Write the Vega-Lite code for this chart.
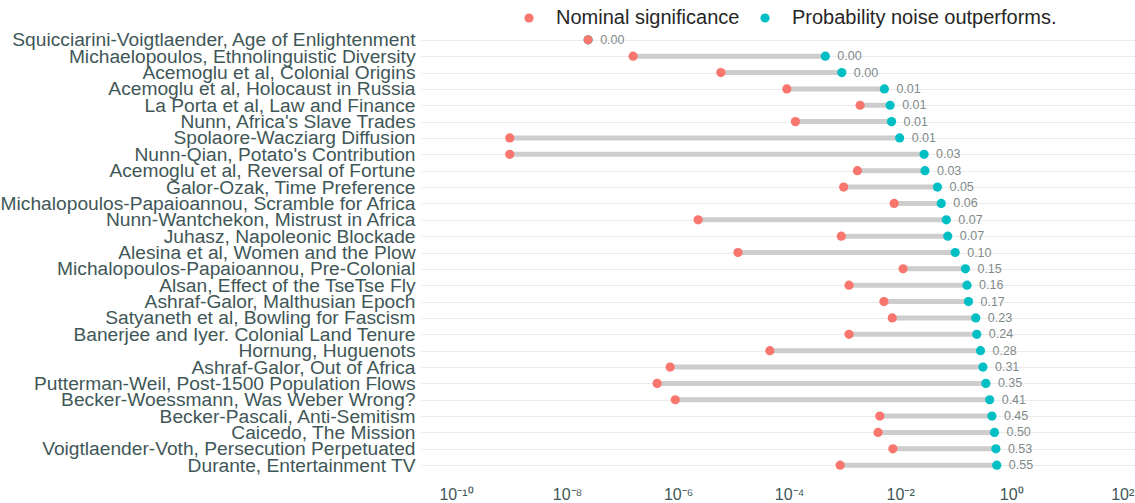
{
  "$schema": "https://vega.github.io/schema/vega-lite/v6.json",
  "width": 714,
  "height": 445,
  "autosize": {"type": "none"},
  "padding": {"left": 421, "top": 30, "right": 0, "bottom": 28},
  "background": "white",
  "config": {"view": {"stroke": null}, "font": "Liberation Sans"},
  "data": {
    "values": [
      {"study": "Squicciarini-Voigtlaender, Age of Enlightenment", "nominal": 2.4e-8, "noise": 2.4e-8, "label": "0.00"},
      {"study": "Michaelopoulos, Ethnolinguistic Diversity", "nominal": 1.55e-7, "noise": 4.5e-4, "label": "0.00"},
      {"study": "Acemoglu et al, Colonial Origins", "nominal": 5.9e-6, "noise": 8.9e-4, "label": "0.00"},
      {"study": "Acemoglu et al, Holocaust in Russia", "nominal": 9.1e-5, "noise": 5.2e-3, "label": "0.01"},
      {"study": "La Porta et al, Law and Finance", "nominal": 1.9e-3, "noise": 6.6e-3, "label": "0.01"},
      {"study": "Nunn, Africa's Slave Trades", "nominal": 1.3e-4, "noise": 7.0e-3, "label": "0.01"},
      {"study": "Spolaore-Wacziarg Diffusion", "nominal": 9.3e-10, "noise": 9.8e-3, "label": "0.01"},
      {"study": "Nunn-Qian, Potato's Contribution", "nominal": 9.3e-10, "noise": 0.027, "label": "0.03"},
      {"study": "Acemoglu et al, Reversal of Fortune", "nominal": 1.7e-3, "noise": 0.028, "label": "0.03"},
      {"study": "Galor-Ozak, Time Preference", "nominal": 9.6e-4, "noise": 0.047, "label": "0.05"},
      {"study": "Michalopoulos-Papaioannou, Scramble for Africa", "nominal": 7.8e-3, "noise": 0.055, "label": "0.06"},
      {"study": "Nunn-Wantchekon, Mistrust in Africa", "nominal": 2.3e-6, "noise": 0.068, "label": "0.07"},
      {"study": "Juhasz, Napoleonic Blockade", "nominal": 8.7e-4, "noise": 0.072, "label": "0.07"},
      {"study": "Alesina et al, Women and the Plow", "nominal": 1.2e-5, "noise": 0.098, "label": "0.10"},
      {"study": "Michalopoulos-Papaioannou, Pre-Colonial", "nominal": 0.0113, "noise": 0.15, "label": "0.15"},
      {"study": "Alsan, Effect of the TseTse Fly", "nominal": 1.2e-3, "noise": 0.16, "label": "0.16"},
      {"study": "Ashraf-Galor, Malthusian Epoch", "nominal": 5.1e-3, "noise": 0.17, "label": "0.17"},
      {"study": "Satyaneth et al, Bowling for Fascism", "nominal": 7.2e-3, "noise": 0.23, "label": "0.23"},
      {"study": "Banerjee and Iyer. Colonial Land Tenure", "nominal": 1.2e-3, "noise": 0.24, "label": "0.24"},
      {"study": "Hornung, Huguenots", "nominal": 4.5e-5, "noise": 0.28, "label": "0.28"},
      {"study": "Ashraf-Galor, Out of Africa", "nominal": 7.2e-7, "noise": 0.31, "label": "0.31"},
      {"study": "Putterman-Weil, Post-1500 Population Flows", "nominal": 4.2e-7, "noise": 0.35, "label": "0.35"},
      {"study": "Becker-Woessmann, Was Weber Wrong?", "nominal": 8.9e-7, "noise": 0.41, "label": "0.41"},
      {"study": "Becker-Pascali, Anti-Semitism", "nominal": 4.3e-3, "noise": 0.45, "label": "0.45"},
      {"study": "Caicedo, The Mission", "nominal": 4.0e-3, "noise": 0.50, "label": "0.50"},
      {"study": "Voigtlaender-Voth, Persecution Perpetuated", "nominal": 7.4e-3, "noise": 0.53, "label": "0.53"},
      {"study": "Durante, Entertainment TV", "nominal": 8.3e-4, "noise": 0.55, "label": "0.55"}
    ]
  },
  "encoding": {
    "y": {
      "field": "study",
      "type": "nominal",
      "sort": null,
      "scale": {"type": "point", "padding": 0.6},
      "axis": {
        "title": null,
        "domain": false,
        "ticks": false,
        "grid": true,
        "gridColor": "#EBEBEB",
        "gridWidth": 1.2,
        "labelFont": "Liberation Sans",
        "labelFontSize": 19.2,
        "labelColor": "#3f5757",
        "labelPadding": 6,
        "labelLimit": 600,
        "labelBaseline": "middle"
      }
    }
  },
  "layer": [
    {
      "mark": {"type": "rule", "strokeWidth": 5, "color": "#cdcdcd"},
      "encoding": {
        "x": {
          "field": "nominal",
          "type": "quantitative",
          "scale": {"type": "log", "domain": [2.344e-11, 169.8], "nice": false, "zero": false},
          "axis": {
            "title": null,
            "grid": false,
            "domain": false,
            "ticks": false,
            "values": [1e-10, 1e-8, 1e-6, 1e-4, 0.01, 1, 100],
            "labelExpr": "'10' + replace(replace(replace(replace(replace(replace(replace('' + round(log(datum.value)/LN10), '-', '⁻'), '1', '¹'), '0', '⁰'), '2', '²'), '4', '⁴'), '6', '⁶'), '8', '⁸')",
            "labelFont": "Liberation Sans",
            "labelFontSize": 16,
            "labelColor": "#3f5757",
            "labelPadding": 11,
            "labelFlush": false,
            "labelOverlap": false,
            "labelBound": false
          }
        },
        "x2": {"field": "noise"}
      }
    },
    {
      "mark": {"type": "point", "filled": true, "size": 85, "opacity": 1},
      "encoding": {
        "x": {"field": "noise", "type": "quantitative"},
        "color": {
          "datum": "Probability noise outperforms.",
          "type": "nominal",
          "scale": {
            "domain": ["Nominal significance", "Probability noise outperforms."],
            "range": ["#F8766D", "#00BFC4"]
          },
          "legend": {
            "title": null,
            "orient": "none",
            "legendX": 98,
            "legendY": -22,
            "direction": "horizontal",
            "symbolType": "circle",
            "symbolSize": 85,
            "symbolStrokeWidth": 0,
            "labelFont": "Liberation Sans",
            "labelFontSize": 20,
            "labelColor": "#262626",
            "labelLimit": 500,
            "labelOffset": 17,
            "columnPadding": 15,
            "padding": 0
          }
        }
      }
    },
    {
      "mark": {"type": "point", "filled": true, "size": 85, "opacity": 1},
      "encoding": {
        "x": {"field": "nominal", "type": "quantitative"},
        "color": {"datum": "Nominal significance", "type": "nominal"}
      }
    },
    {
      "mark": {"type": "text", "align": "left", "baseline": "middle", "dx": 12, "fontSize": 12.5, "font": "Liberation Sans", "color": "#7f8a8a"},
      "encoding": {
        "x": {"field": "noise", "type": "quantitative"},
        "text": {"field": "label"}
      }
    }
  ]
}
